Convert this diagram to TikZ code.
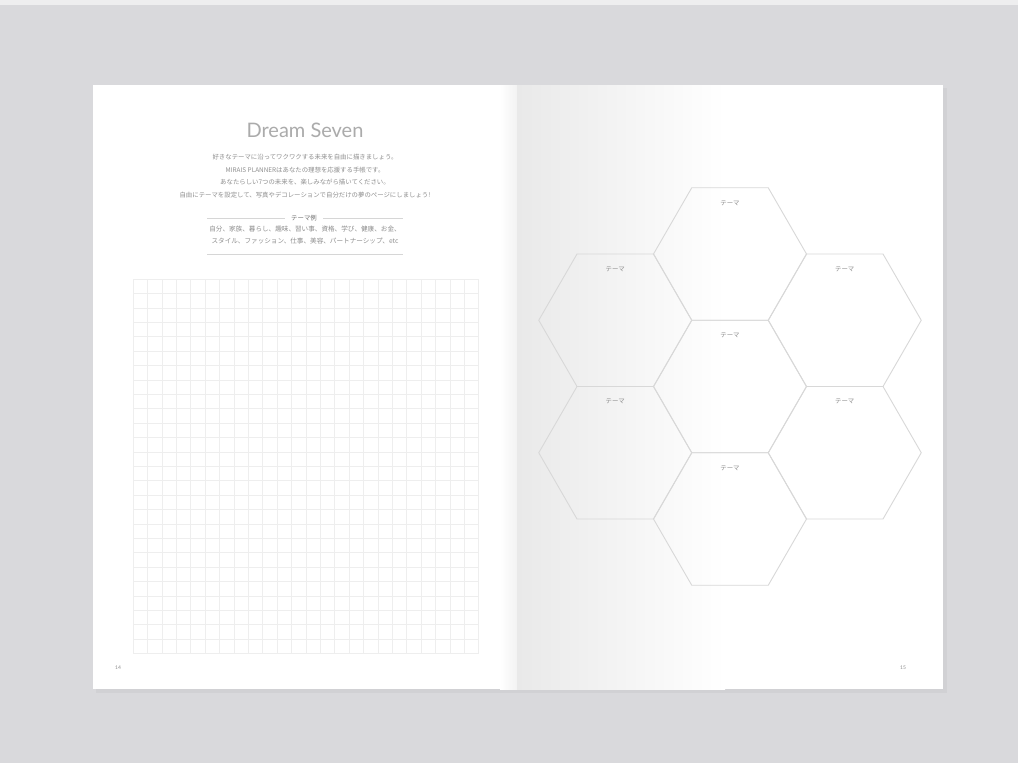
\documentclass[tikz,border=0pt]{standalone}
\usepackage{fontspec}
\setmainfont{Lato}
\newfontfamily\jpfont{Noto Sans CJK JP}
\usetikzlibrary{positioning, calc, shapes.geometric}

\definecolor{deskgray}{HTML}{D9D9DC}
\definecolor{shadowgray}{HTML}{D1D1D4}
\definecolor{spinegray}{HTML}{E9E9E9}
\definecolor{inkgray}{HTML}{8E8E8E}
\definecolor{titlegray}{HTML}{ABABAB}
\definecolor{gridgray}{HTML}{EEEEEE}
\definecolor{hexgray}{HTML}{D8D8D8}

\begin{document}
\begin{tikzpicture}[x=1pt, y=-1pt,
    hexa/.style={draw=hexgray, line width=0.9pt, regular polygon, regular polygon sides=6,
      minimum size=153pt, inner sep=0pt, outer sep=0pt},
    theme/.style={font=\jpfont\fontsize{6.4}{7}\selectfont, text=inkgray, inner sep=0pt},
    jptext/.style={font=\jpfont\fontsize{6.4}{12.6}\selectfont, text=inkgray, align=center, inner sep=0pt},
    rule/.style={draw=gridgray!90!black, line width=0.7pt},
    gridline/.style={draw=gridgray, line width=0.6pt},
    pagenum/.style={font=\fontsize{5}{6}\selectfont, text=inkgray, inner sep=0pt}]
    % Desk and frame
    \useasboundingbox (0,0) rectangle (1018,763);
    \fill[deskgray] (0,0) rectangle (1018,763);
    \fill[white!55!deskgray] (0,0) rectangle (1018,5);

    % Shadow under the open book
    \fill[shadowgray] (96,88) rectangle (947,693);

    % Pages
    \fill[white] (93,85) rectangle (943,689);
    \begin{scope}
      \clip (93,85) rectangle (943,689);
      \shade[left color=white, right color=gray!10] (500,80) rectangle (517,695);
      \shade[left color=spinegray, right color=white] (517,80) rectangle (725,695);
    \end{scope}

    % Left page: heading
    \node[font=\fontsize{20}{24}\selectfont, text=titlegray] (title) at (305,130) {Dream Seven};
    \node[jptext] (intro) at (305,176) {好きなテーマに沿ってワクワクする未来を自由に描きましょう。\\
      MIRAIS PLANNERはあなたの理想を応援する手帳です。\\
      あなたらしい7つの未来を、楽しみながら描いてください。\\
      自由にテーマを設定して、写真やデコレーションで自分だけの夢のページにしましょう!};

    % Theme examples
    \node[jptext, text=inkgray!80!black] (exhead) at (304,218) {テーマ例};
    \coordinate (ruleL) at (207,218);
    \coordinate (ruleR) at (403,218);
    \draw[rule] (ruleL) -- ([xshift=-6pt]exhead.west);
    \draw[rule] ([xshift=6pt]exhead.east) -- (ruleR);
    \node[jptext, font=\jpfont\fontsize{6.6}{12}\selectfont] (examples) at (305,235)
      {自分、家族、暮らし、趣味、習い事、資格、学び、健康、お金、\\
      スタイル、ファッション、仕事、美容、パートナーシップ、etc};
    \coordinate (ruleBL) at (207,254);
    \coordinate (ruleBR) at (403,254);
    \draw[rule] (ruleBL) -- (ruleBR);

    % Graph paper
    \foreach \i in {0,...,24}
      \draw[gridline] ({133+\i*14.4},279) -- ({133+\i*14.4},653.4);
    \foreach \j in {0,...,26}
      \draw[gridline] (133,{279+\j*14.4}) -- (478.6,{279+\j*14.4});

    % Right page: seven hexagons
    \node[hexa] (hexT) at (730,254) {};
    \node[hexa] (hexC) at (730,386.5) {};
    \node[hexa] (hexB) at (730,519) {};
    \node[hexa] (hexUL) at (615.25,320.25) {};
    \node[hexa] (hexLL) at (615.25,452.75) {};
    \node[hexa] (hexUR) at (844.75,320.25) {};
    \node[hexa] (hexLR) at (844.75,452.75) {};
    \foreach \h in {T,C,B,UL,LL,UR,LR}
      \node[theme, below=12.5pt of hex\h.north] (lbl\h) {テーマ};

    % Page numbers
    \node[pagenum] (pnL) at (118,668) {14};
    \node[pagenum] (pnR) at (903,668) {15};
\end{tikzpicture}
\end{document}
